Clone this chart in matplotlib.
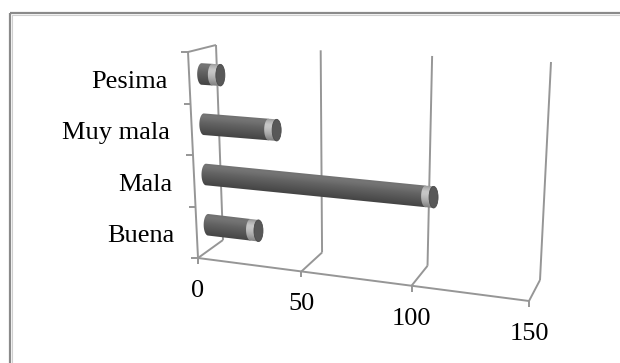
import numpy as np
import matplotlib
matplotlib.use("Agg")
import matplotlib.pyplot as plt
from matplotlib.patches import Ellipse, Polygon, Rectangle

# data
categories = ["Buena", "Mala", "Muy mala", "Pesima"]
values = [25, 106, 35, 9]
ticks = [0, 50, 100, 150]
vmax = 150

# perspective box (pixel corners of the Excel-style 3D plot area)
F0, F1 = np.array([198.0, 258.0]), np.array([529.0, 301.0])   # front floor edge
B0, B1 = np.array([223.0, 240.0]), np.array([540.0, 280.0])   # back floor edge
T0, T1 = np.array([216.0, 45.0]), np.array([551.0, 62.0])     # back top edge
D0, D1 = np.array([28.0, -7.0]), np.array([14.0, -10.0])      # depth offset at top
PERSP = 1.1


def proj(v, h, d):
    # value v, height h (0 floor .. 1 top), depth d (0 front .. 1 back) -> pixels
    u = v / vmax
    s = u / (PERSP + (1 - PERSP) * u)
    f = F0 + s * (F1 - F0)
    b = B0 + s * (B1 - B0)
    t = T0 + s * (T1 - T0)
    ft = t - (D0 + s * (D1 - D0))
    front = f + h * (ft - f)
    back = b + h * (t - b)
    return front + d * (back - front)


fig = plt.figure(figsize=(6.2, 3.63), dpi=100)
ax = fig.add_axes([0, 0, 1, 1])
ax.axis("off")

font = dict(family=["Liberation Serif", "DejaVu Serif"], size=19, color="black")

# outer frame
ax.add_patch(Rectangle((10, 13), 700, 500, fill=False, ec="#8a8a8a", lw=1.6))
ax.add_patch(Rectangle((11.8, 14.8), 700, 500, fill=False, ec="#cfcfcf", lw=0.8))

gc, glw = "#969696", 1.4


def seg(p, q):
    ax.plot([p[0], q[0]], [p[1], q[1]], color=gc, lw=glw, solid_capstyle="butt", zorder=1)


# grid: back wall verticals, floor diagonals, value ticks
for v in ticks:
    seg(proj(v, 0, 1), proj(v, 1, 1))
    seg(proj(v, 0, 1), proj(v, 0, 0))
    p = proj(v, 0, 0)
    seg(p, p + np.array([0, 6]))
    ax.text(p[0], p[1] + 33, str(v), ha="center", va="center", **font)

seg(proj(0, 0, 0), proj(vmax, 0, 0))
# left side wall
seg(proj(0, 0, 0), proj(0, 1, 0))
seg(proj(0, 1, 0), proj(0, 1, 1))
for k in range(len(categories) + 1):
    p = proj(0, k / len(categories), 0)
    seg(p - np.array([7, 0]), p)

body_prof = [0.44, 0.46, 0.43, 0.39, 0.36, 0.33, 0.30, 0.27]
band_prof = [0.58, 0.70, 0.78, 0.77, 0.72, 0.66, 0.58, 0.50]
r, a, bw, depth = 10.8, 4.5, 8.0, 0.45


def arc(c, th0, th1, n=40):
    th = np.linspace(th0, th1, n)
    return np.column_stack([c[0] + a * np.cos(th), c[1] + r * np.sin(th)])


def shaded(shape, pL, pR, prof):
    clip = Polygon(shape, closed=True, transform=ax.transData)
    x0, x1 = shape[:, 0].min() - 1, shape[:, 0].max() + 1
    y0, y1 = shape[:, 1].min() - 1, shape[:, 1].max() + 1
    slope = (pR[1] - pL[1]) / max(pR[0] - pL[0], 1e-6)
    xs = np.linspace(x0, x1, int((x1 - x0) * 4) + 2)
    ys = np.linspace(y0, y1, int((y1 - y0) * 4) + 2)
    X, Y = np.meshgrid(xs, ys)
    t = (Y - (pL[1] + slope * (X - pL[0])) + r) / (2 * r)
    g = np.interp(np.clip(t, 0, 1), np.linspace(0, 1, len(prof)), prof)
    img = np.dstack([g, g, g])
    im = ax.imshow(img, extent=(x0, x1, y1, y0), origin="upper", aspect="auto",
                   interpolation="bilinear", zorder=3)
    im.set_clip_path(clip)


for i, (cat, val) in enumerate(zip(categories, values)):
    h = (i + 0.5) / len(categories)
    pL = proj(0, h, depth)
    pR = proj(val, h, depth)
    dvec = (pR - pL) / np.linalg.norm(pR - pL)
    pB = pR - bw * dvec if np.linalg.norm(pR - pL) > bw else pL

    body = np.vstack([arc(pL, 1.5 * np.pi, 0.5 * np.pi), pB + [0, r], pB + [0, -r]])
    shaded(body, pL, pR, body_prof)
    band = np.vstack([arc(pB, 1.5 * np.pi, 0.5 * np.pi), pR + [0, r], pR + [0, -r]])
    shaded(band, pL, pR, band_prof)
    ax.add_patch(Ellipse(pR, 2 * a, 2 * r, fc="#585858", ec="#4a4a4a", lw=0.6, zorder=4))

    # category label
    p = proj(0, h, 0)
    ax.text(p[0] - 22, p[1] + 10, cat, ha="right", va="baseline", **font)

ax.set_xlim(0, 620)
ax.set_ylim(363, 0)
fig.savefig("out.png", dpi=100)
